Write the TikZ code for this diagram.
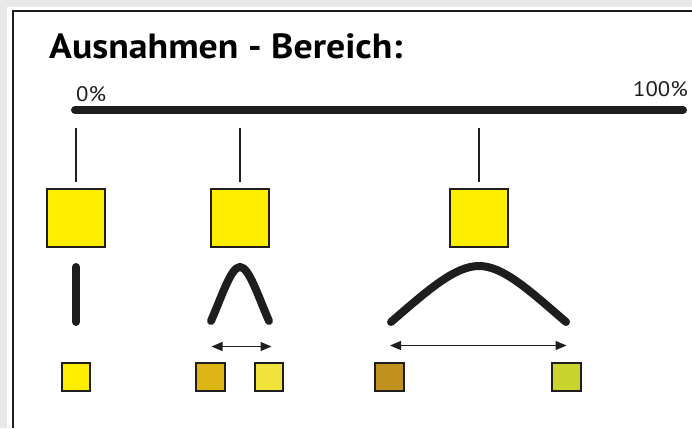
\documentclass[tikz,border=0pt]{standalone}
\usepackage{fontspec}
\setmainfont{PT Sans}[FakeStretch=1.08]
\usetikzlibrary{arrows.meta}
\definecolor{yel}{HTML}{FFED00}
\definecolor{goldA}{HTML}{DDB515}
\definecolor{lightA}{HTML}{F0E43C}
\definecolor{goldB}{HTML}{C0911E}
\definecolor{greenB}{HTML}{CAD42F}
\definecolor{ink}{HTML}{1E1E1C}
\definecolor{outer}{HTML}{E8E8E8}
\tikzset{
  bigsq/.style={draw=ink, line width=2pt, fill=yel, minimum size=58pt, inner sep=0pt, outer sep=0pt},
  smallsq/.style={draw=ink, line width=2pt, minimum size=28.5pt, inner sep=0pt, outer sep=0pt},
  thinline/.style={draw=ink, line width=1.5pt},
  thickcurve/.style={draw=ink, line width=8pt, line cap=round},
  spread/.style={draw=ink, line width=1.2pt, {Triangle[length=11pt,width=9pt]}-{Triangle[length=11pt,width=9pt]}},
  pct/.style={font=\fontsize{21}{24}\selectfont, text=ink, inner sep=0pt}
}
\begin{document}
\begin{tikzpicture}[x=1pt,y=-1pt]
\useasboundingbox (0,0) rectangle (692,428);
\fill[outer] (0,0) rectangle (692,428);
\fill[white] (7,7) rectangle (692,428);
\draw[ink, line width=2pt] (13,428) -- (13,11) -- (692,11);
% title
\node[anchor=base west, inner sep=0pt, font=\bfseries\fontsize{35}{38}\selectfont, text=black] (title) at (49,58.5) {Ausnahmen - Bereich:};
% scale
\coordinate (s0) at (75,110);
\coordinate (s1) at (683,110);
\draw[ink, line width=8pt, line cap=round] (s0) -- (s1);
\node[pct, anchor=base west] (p0) at (76,101.7) {0\%};
\node[pct, anchor=base east] (p100) at (688,96.7) {100\%};
% ticks
\coordinate (t1) at (76,128);
\coordinate (t2) at (240,128);
\coordinate (t3) at (479,128);
\node[bigsq] (b1) at (76,218) {};
\node[bigsq] (b2) at (240,218) {};
\node[bigsq] (b3) at (479,218) {};
\coordinate (u1) at (76,182);
\coordinate (u2) at (240,182);
\coordinate (u3) at (479,182);
\draw[thinline] (t1) -- (u1);
\draw[thinline] (t2) -- (u2);
\draw[thinline] (t3) -- (u3);
% distributions
\coordinate (c1a) at (76,267);
\coordinate (c1b) at (76,322);
\draw[thickcurve] (c1a) -- (c1b);
\coordinate (c2a) at (211,321);
\coordinate (c2p) at (240,267);
\coordinate (c2b) at (269,321);
\draw[thickcurve] (c2a) .. controls (222,296) and (231,267) .. (c2p) .. controls (249,267) and (258,296) .. (c2b);
\coordinate (c3a) at (391,322);
\coordinate (c3p) at (479,266);
\coordinate (c3b) at (566,322);
\draw[thickcurve] (c3a) .. controls (428,290) and (455,266) .. (c3p) .. controls (503,266) and (529,290) .. (c3b);
% arrows
\coordinate (a2l) at (211.5,346.5);
\coordinate (a2r) at (271.5,346.5);
\coordinate (a3l) at (390,345.5);
\coordinate (a3r) at (566.5,345.5);
\draw[spread] (a2l) -- (a2r);
\draw[spread] (a3l) -- (a3r);
% small squares
\node[smallsq, fill=yel] (q1) at (76,377) {};
\node[smallsq, fill=goldA] (q2a) at (210.3,377) {};
\node[smallsq, fill=lightA] (q2b) at (269,377) {};
\node[smallsq, fill=goldB] (q3a) at (389.7,377) {};
\node[smallsq, fill=greenB] (q3b) at (566.3,377) {};
\end{tikzpicture}
\end{document}
